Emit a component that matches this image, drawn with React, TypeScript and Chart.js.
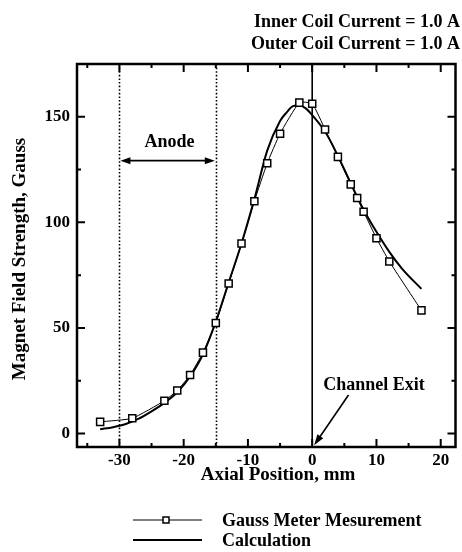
import React, { useEffect, useRef } from "react";
import { Chart, registerables } from "chart.js";

Chart.register(...registerables);

// Gauss meter measurement along the thruster axis
const measX = [-33, -28, -23, -21, -19, -17, -15, -13, -11, -9, -7, -5, -2, 0, 2, 4, 6, 7, 8, 10, 12, 17];
const measY = [5.5, 7.2, 15.5, 20.4, 27.7, 38.3, 52.3, 71, 90, 110, 128, 142, 156.7, 156.2, 144, 131, 118, 111.5, 105, 92.5, 81.5, 58.3];

// Calculated field profile
const calcX = [-33, -31, -29, -27, -25, -23, -21, -19, -17, -15, -13, -11, -9, -7, -5, -4, -3, -2, -1, 0, 2, 4, 6, 8, 10, 12, 14, 17];
const calcY = [2, 3, 4.5, 7, 10.5, 14.5, 19.5, 27, 37.5, 53, 71.5, 90, 111, 134, 148, 152, 155, 155.5, 154, 150.8, 143, 131.5, 118.5, 106, 95.5, 86, 78, 68.5];

const xTicks = [-30, -20, -10, 0, 10, 20];
const xMinorTicks = [-35, -25, -15, -5, 5, 15];
const yTicks = [0, 50, 100, 150];
const yMinorTicks = [25, 75, 125];

const seriesLabels = ["Gauss Meter Mesurement", "Calculation"];
const headerLines = ["Inner Coil Current = 1.0 A", "Outer Coil Current = 1.0 A"];
const xTitle = "Axial Position, mm";
const yTitle = "Magnet Field Strength, Gauss";

// anode region bounds and channel exit (mm)
const anodeBounds = [-30, -15];
const exitPosition = 0;

const SERIF = "'Liberation Serif', 'Times New Roman', serif";

const decorations = {
  id: "decorations",
  beforeDatasetsDraw(chart: any) {
    const { ctx, chartArea: a, scales } = chart;
    const xs = scales.x;
    ctx.save();
    ctx.strokeStyle = "#000";
    // dotted anode boundaries
    ctx.lineWidth = 1.6;
    ctx.setLineDash([1.6, 2]);
    for (const v of anodeBounds) {
      const px = Math.round(xs.getPixelForValue(v)) + 0.5;
      ctx.beginPath();
      ctx.moveTo(px, a.top);
      ctx.lineTo(px, a.bottom);
      ctx.stroke();
    }
    // channel exit plane
    ctx.setLineDash([]);
    ctx.lineWidth = 1.6;
    const ex = xs.getPixelForValue(exitPosition);
    ctx.beginPath();
    ctx.moveTo(ex, a.top);
    ctx.lineTo(ex, a.bottom);
    ctx.stroke();
    ctx.restore();
  },
  afterDraw(chart: any) {
    const { ctx, chartArea: a, scales } = chart;
    const xs = scales.x;
    const ys = scales.y;
    ctx.save();
    ctx.strokeStyle = "#000";
    ctx.fillStyle = "#000";

    // frame
    ctx.lineWidth = 2.5;
    ctx.strokeRect(a.left, a.top, a.right - a.left, a.bottom - a.top);

    // inward ticks
    ctx.lineWidth = 2;
    const tickX = (vals: number[], len: number) => {
      for (const v of vals) {
        const px = xs.getPixelForValue(v);
        ctx.beginPath();
        ctx.moveTo(px, a.bottom);
        ctx.lineTo(px, a.bottom - len);
        ctx.moveTo(px, a.top);
        ctx.lineTo(px, a.top + len);
        ctx.stroke();
      }
    };
    const tickY = (vals: number[], len: number) => {
      for (const v of vals) {
        const py = ys.getPixelForValue(v);
        ctx.beginPath();
        ctx.moveTo(a.left, py);
        ctx.lineTo(a.left + len, py);
        ctx.moveTo(a.right, py);
        ctx.lineTo(a.right - len, py);
        ctx.stroke();
      }
    };
    tickX(xTicks, 8);
    tickX(xMinorTicks, 4);
    tickY(yTicks, 8);
    tickY(yMinorTicks, 4);

    const arrowHead = (x1: number, y1: number, x2: number, y2: number, len: number, half: number) => {
      const ang = Math.atan2(y2 - y1, x2 - x1);
      ctx.beginPath();
      ctx.moveTo(x2, y2);
      ctx.lineTo(x2 - len * Math.cos(ang) + half * Math.sin(ang), y2 - len * Math.sin(ang) - half * Math.cos(ang));
      ctx.lineTo(x2 - len * Math.cos(ang) - half * Math.sin(ang), y2 - len * Math.sin(ang) + half * Math.cos(ang));
      ctx.closePath();
      ctx.fill();
    };

    // anode span arrow
    const ax1 = xs.getPixelForValue(anodeBounds[0]) + 1;
    const ax2 = xs.getPixelForValue(anodeBounds[1]) - 1;
    const ay = ys.getPixelForValue(129.2);
    ctx.lineWidth = 1.8;
    ctx.beginPath();
    ctx.moveTo(ax1 + 6, ay);
    ctx.lineTo(ax2 - 6, ay);
    ctx.stroke();
    arrowHead(ax2, ay, ax1, ay, 10, 3.5);
    arrowHead(ax1, ay, ax2, ay, 10, 3.5);

    ctx.font = `bold 18px ${SERIF}`;
    ctx.textAlign = "center";
    ctx.textBaseline = "middle";
    ctx.fillText("Anode", xs.getPixelForValue(-22.2), ys.getPixelForValue(137.8));

    // channel exit callout
    const cx1 = xs.getPixelForValue(5.65);
    const cy1 = ys.getPixelForValue(18.2);
    const cx2 = xs.getPixelForValue(0.3);
    const cy2 = ys.getPixelForValue(-5.6);
    ctx.lineWidth = 1.6;
    ctx.beginPath();
    ctx.moveTo(cx1, cy1);
    ctx.lineTo(cx1 + (cx2 - cx1) * 0.85, cy1 + (cy2 - cy1) * 0.85);
    ctx.stroke();
    arrowHead(cx1, cy1, cx2, cy2, 11, 3.5);
    ctx.fillText("Channel Exit", xs.getPixelForValue(9.6), ys.getPixelForValue(23));

    // header
    ctx.textAlign = "right";
    ctx.fillText(headerLines[0], 460, 22);
    ctx.fillText(headerLines[1], 460, 44);

    // axis titles
    ctx.font = `bold 19px ${SERIF}`;
    ctx.textAlign = "center";
    ctx.fillText(xTitle, 278, 475);
    ctx.save();
    ctx.translate(20, 259);
    ctx.rotate(-Math.PI / 2);
    ctx.fillText(yTitle, 0, 0);
    ctx.restore();

    // legend
    const ds = chart.data.datasets;
    ctx.font = `bold 18px ${SERIF}`;
    ctx.textAlign = "left";
    const rows = [520, 540];
    ds.forEach((d: any, i: number) => {
      const y = rows[i];
      ctx.lineWidth = d.borderWidth;
      ctx.beginPath();
      ctx.moveTo(133, y);
      ctx.lineTo(202, y);
      ctx.stroke();
      if (d.pointRadius > 0) {
        ctx.fillStyle = "#fff";
        ctx.lineWidth = 1.5;
        ctx.fillRect(163, y - 3, 6, 6);
        ctx.strokeRect(163, y - 3, 6, 6);
        ctx.fillStyle = "#000";
      }
      ctx.fillText(d.label, 222, y + 1);
    });
    ctx.restore();
  },
};

export default function App() {
  const canvasRef = useRef<HTMLCanvasElement | null>(null);

  useEffect(() => {
    if (!canvasRef.current) return;
    Chart.defaults.font.family = SERIF;
    Chart.defaults.color = "#000";

    const chart = new Chart(canvasRef.current, {
      type: "line",
      data: {
        datasets: [
          {
            label: seriesLabels[0],
            data: measX.map((x, i) => ({ x, y: measY[i] })),
            borderColor: "#000",
            borderWidth: 1,
            pointStyle: "rect",
            pointRadius: 5,
            pointBorderWidth: 1.5,
            pointBackgroundColor: "#fff",
            pointBorderColor: "#000",
            tension: 0.15,
          },
          {
            label: seriesLabels[1],
            data: calcX.map((x, i) => ({ x, y: calcY[i] })),
            borderColor: "#000",
            borderWidth: 2,
            pointRadius: 0,
            cubicInterpolationMode: "monotone",
          },
        ],
      },
      options: {
        responsive: false,
        animation: false,
        devicePixelRatio: 1,
        layout: { padding: { top: 64, right: 2, left: 0, bottom: 0 } },
        plugins: {
          legend: { display: false },
          tooltip: { enabled: false },
          title: { display: false },
        },
        scales: {
          x: {
            type: "linear",
            position: "bottom",
            min: -36.6,
            max: 22.3,
            grid: { display: false, drawTicks: false },
            border: { display: false },
            afterBuildTicks: (s: any) => {
              s.ticks = xTicks.map((v) => ({ value: v }));
            },
            afterFit: (s: any) => {
              s.height = 105;
            },
            ticks: {
              padding: 3,
              maxRotation: 0,
              autoSkip: false,
              font: { size: 17, weight: "bold" },
              color: "#000",
            },
          },
          y: {
            type: "linear",
            min: -6.4,
            max: 175,
            grid: { display: false, drawTicks: false },
            border: { display: false },
            afterBuildTicks: (s: any) => {
              s.ticks = yTicks.map((v) => ({ value: v }));
            },
            afterFit: (s: any) => {
              s.width = 77;
            },
            ticks: {
              padding: 7,
              autoSkip: false,
              font: { size: 17, weight: "bold" },
              color: "#000",
            },
          },
        },
      },
      plugins: [decorations],
    } as any);

    return () => chart.destroy();
  }, []);

  return (
    <div style={{ position: "absolute", left: 0, top: 0, width: 462, height: 552, background: "#fff" }}>
      <canvas ref={canvasRef} width={462} height={552} style={{ display: "block" }} />
    </div>
  );
}
